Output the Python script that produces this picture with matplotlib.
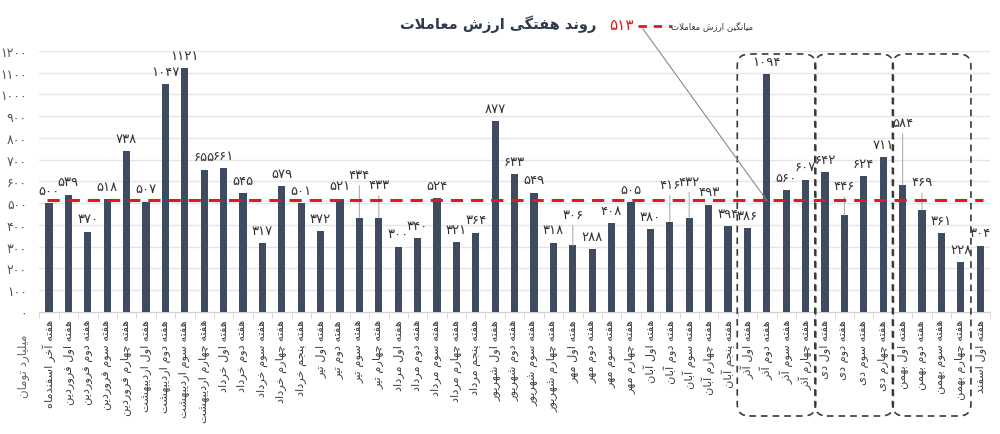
import matplotlib
matplotlib.use("Agg")
import matplotlib.pyplot as plt
from matplotlib.patches import FancyBboxPatch
from matplotlib.lines import Line2D
from matplotlib.transforms import IdentityTransform

# ---------------- data ----------------
categories = [
    "هفته آخر اسفندماه", "هفته اول فروردین", "هفته دوم فروردین", "هفته سوم فروردین",
    "هفته چهارم فروردین", "هفته اول اردیبهشت", "هفته دوم اردیبهشت", "هفته سوم اردیبهشت",
    "هفته چهارم اردیبهشت", "هفته اول خرداد", "هفته دوم خرداد", "هفته سوم خرداد",
    "هفته چهارم خرداد", "هفته پنجم خرداد", "هفته اول تیر", "هفته دوم تیر",
    "هفته سوم تیر", "هفته چهارم تیر", "هفته اول مرداد", "هفته دوم مرداد",
    "هفته سوم مرداد", "هفته چهارم مرداد", "هفته پنجم مرداد", "هفته اول شهریور",
    "هفته دوم شهریور", "هفته سوم شهریور", "هفته چهارم شهریور", "هفته اول مهر",
    "هفته دوم مهر", "هفته سوم مهر", "هفته چهارم مهر", "هفته اول آبان",
    "هفته دوم آبان", "هفته سوم آبان", "هفته چهارم آبان", "هفته پنجم آبان",
    "هفته اول آذر", "هفته دوم آذر", "هفته سوم آذر", "هفته چهارم آذر",
    "هفته اول دی", "هفته دوم دی", "هفته سوم دی", "هفته چهارم دی",
    "هفته اول بهمن", "هفته دوم بهمن", "هفته سوم بهمن", "هفته چهارم بهمن",
    "هفته اول اسفند",
]
values = [500, 539, 370, 518, 738, 507, 1047, 1121, 655, 661, 545, 317, 579, 501,
          372, 521, 434, 433, 300, 340, 524, 321, 364, 877, 633, 549, 318, 306,
          288, 408, 505, 380, 416, 432, 493, 394, 386, 1094, 560, 607, 642, 446,
          624, 711, 584, 469, 361, 228, 304]
average = 513
y_ticks = [0, 100, 200, 300, 400, 500, 600, 700, 800, 900, 1000, 1100, 1200]
title = "روند هفتگی ارزش معاملات"
legend_label = "میانگین ارزش معاملات"
y_label = "میلیارد تومان"
# groups highlighted with dashed boxes (first index, last index)
groups = [(36, 39), (40, 43), (44, 47)]

# ---------------- simple Persian shaping ----------------
_F = {
    'ا': ('\uFE8D', '\uFE8E'), 'آ': ('\uFE81', '\uFE82'),
    'د': ('\uFEA9', '\uFEAA'), 'ذ': ('\uFEAB', '\uFEAC'),
    'ر': ('\uFEAD', '\uFEAE'), 'ز': ('\uFEAF', '\uFEB0'),
    'ژ': ('\uFB8A', '\uFB8B'), 'و': ('\uFEED', '\uFEEE'),
    'ب': ('\uFE8F', '\uFE90', '\uFE91', '\uFE92'),
    'پ': ('\uFB56', '\uFB57', '\uFB58', '\uFB59'),
    'ت': ('\uFE95', '\uFE96', '\uFE97', '\uFE98'),
    'ث': ('\uFE99', '\uFE9A', '\uFE9B', '\uFE9C'),
    'ج': ('\uFE9D', '\uFE9E', '\uFE9F', '\uFEA0'),
    'چ': ('\uFB7A', '\uFB7B', '\uFB7C', '\uFB7D'),
    'ح': ('\uFEA1', '\uFEA2', '\uFEA3', '\uFEA4'),
    'خ': ('\uFEA5', '\uFEA6', '\uFEA7', '\uFEA8'),
    'س': ('\uFEB1', '\uFEB2', '\uFEB3', '\uFEB4'),
    'ش': ('\uFEB5', '\uFEB6', '\uFEB7', '\uFEB8'),
    'ص': ('\uFEB9', '\uFEBA', '\uFEBB', '\uFEBC'),
    'ض': ('\uFEBD', '\uFEBE', '\uFEBF', '\uFEC0'),
    'ط': ('\uFEC1', '\uFEC2', '\uFEC3', '\uFEC4'),
    'ظ': ('\uFEC5', '\uFEC6', '\uFEC7', '\uFEC8'),
    'ع': ('\uFEC9', '\uFECA', '\uFECB', '\uFECC'),
    'غ': ('\uFECD', '\uFECE', '\uFECF', '\uFED0'),
    'ف': ('\uFED1', '\uFED2', '\uFED3', '\uFED4'),
    'ق': ('\uFED5', '\uFED6', '\uFED7', '\uFED8'),
    'ک': ('\uFB8E', '\uFB8F', '\uFB90', '\uFB91'),
    'گ': ('\uFB92', '\uFB93', '\uFB94', '\uFB95'),
    'ل': ('\uFEDD', '\uFEDE', '\uFEDF', '\uFEE0'),
    'م': ('\uFEE1', '\uFEE2', '\uFEE3', '\uFEE4'),
    'ن': ('\uFEE5', '\uFEE6', '\uFEE7', '\uFEE8'),
    'ه': ('\uFEE9', '\uFEEA', '\uFEEB', '\uFEEC'),
    'ی': ('\uFBFC', '\uFBFD', '\uFBFE', '\uFBFF'),
}
_LA = {'ا': ('\uFEFB', '\uFEFC'), 'آ': ('\uFEF5', '\uFEF6')}


def _dual(c):
    return c in _F and len(_F[c]) == 4


def fa(s):
    res = []
    i, n = 0, len(s)
    while i < n:
        c = s[i]
        if c not in _F:
            res.append(c)
            i += 1
            continue
        jp = i > 0 and _dual(s[i - 1])
        if c == 'ل' and i + 1 < n and s[i + 1] in _LA:
            res.append(_LA[s[i + 1]][1 if jp else 0])
            i += 2
            continue
        jn = _dual(c) and i + 1 < n and s[i + 1] in _F
        f = _F[c]
        if jp and jn:
            g = f[3]
        elif jp:
            g = f[1]
        elif jn:
            g = f[2]
        else:
            g = f[0]
        res.append(g)
        i += 1
    return ''.join(reversed(res))


_DIG = str.maketrans('0123456789', '۰۱۲۳۴۵۶۷۸۹')


def fnum(v):
    return str(v).translate(_DIG)


# ---------------- style ----------------
plt.rcParams['font.family'] = ['DejaVu Sans']
BAR = '#3e4b61'
RED = '#e0191b'
DARK = '#2e3b4e'

W, H = 1000, 435
fig = plt.figure(figsize=(W / 100, H / 100), dpi=100)
ax = fig.add_axes([0.0393, 0.2805, 0.9506, 0.6])

x = list(range(len(values)))
ax.bar(x, values, width=0.37, color=BAR, zorder=3)
ax.set_xlim(-0.5, len(values) - 0.5)
ax.set_ylim(0, 1200)

ax.set_yticks(y_ticks)
ax.set_yticklabels([fnum(t) for t in y_ticks], fontsize=9, color='#555555')
ax.yaxis.grid(True, color='#e6e6e6', linewidth=1, zorder=0)
ax.tick_params(axis='y', length=0, pad=9)

ax.set_xticks(x)
ax.set_xticklabels([fa(c) for c in categories], rotation=90, fontsize=8.2,
                   color='#404040', va='top', ha='center')
ax.set_xticks([i + 0.5 for i in range(-1, len(values))], minor=True)
ax.tick_params(axis='x', which='major', length=0, pad=5)
ax.tick_params(axis='x', which='minor', length=4, color='#d0d0d0')
for sp in ['top', 'right', 'left']:
    ax.spines[sp].set_visible(False)
ax.spines['bottom'].set_color('#d0d0d0')

# average line
ax.plot([-0.1, len(values) - 0.85], [average, average], color=RED, lw=2.2,
        dashes=(4, 2.6), zorder=4)

# data labels
label_raise = {16: 43, 17: 33, 27: 31, 32: 37, 33: 37, 41: 29, 44: 62, 45: 28}
for i, v in enumerate(values):
    off_px = label_raise.get(i, 13)
    ax.annotate(fnum(v), (i, v), xytext=(0, off_px * 0.72), textcoords='offset points',
                ha='center', va='center', fontsize=9.5, color='#333333', zorder=5)
    if i in label_raise:
        ax.annotate('', (i, v), xytext=(0, (off_px - 11) * 0.72),
                    textcoords='offset points',
                    arrowprops=dict(arrowstyle='-', color='#b0b0b0', lw=0.8,
                                    shrinkA=0, shrinkB=0))

# title
fig.text(0.498, 1 - 24 / H, fa(title), ha='center', va='center', fontsize=10.5,
         fontweight='bold', color=DARK)

# legend (custom)
fig.text(753 / W, 1 - 26 / H, fa(legend_label), ha='right', va='center',
         fontsize=6.2, color='#333333')
fig.add_artist(Line2D([638 / W, 672 / W], [1 - 27 / H, 1 - 27 / H], color=RED, lw=2,
                      dashes=(3, 2.5), transform=fig.transFigure))
fig.text(621 / W, 1 - 26 / H, fnum(average), ha='center', va='center',
         fontsize=11, color=RED)

# leader from legend to the average line
px, py = ax.transData.transform((37, average))
fig.add_artist(Line2D([643, px], [H - 30, py], color='#8a8a8a', lw=0.8,
                      transform=IdentityTransform()))

# y-axis title
fig.text(23 / W, 1 - 366 / H, fa(y_label), rotation=90, ha='center', va='center',
         fontsize=8.5, color='#666666')

# dashed rounded boxes
top_px, bot_px = H - 55, H - 417
for a, b in groups:
    x0 = ax.transData.transform((a - 0.6, 0))[0]
    x1 = ax.transData.transform((b + 0.6, 0))[0]
    box = FancyBboxPatch((x0 + 1.5, bot_px), x1 - x0 - 3, top_px - bot_px,
                         boxstyle='round,pad=0,rounding_size=12',
                         fill=False, edgecolor='#3a3a3a', lw=1.2,
                         linestyle=(0, (4, 3)), transform=IdentityTransform())
    fig.add_artist(box)

fig.savefig('out.png', dpi=100)
